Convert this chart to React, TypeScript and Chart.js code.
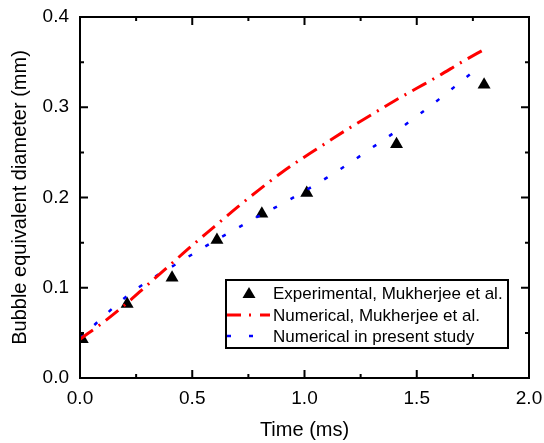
import React, { useEffect, useRef } from "react";
import { Chart, registerables } from "chart.js";

Chart.register(...registerables);

const FONT = '"Liberation Sans", Arial, sans-serif';

// Experimental, Mukherjee et al.
const expTime = [0.01, 0.21, 0.41, 0.61, 0.81, 1.01, 1.41, 1.8];
const expDiam = [0.043, 0.082, 0.111, 0.153, 0.182, 0.205, 0.259, 0.325];

// Numerical, Mukherjee et al.
const mukTime = [0, 0.1, 0.2, 0.3, 0.4, 0.5, 0.6, 0.7, 0.8, 0.9, 1.0, 1.1, 1.2, 1.3, 1.4, 1.5, 1.6, 1.7, 1.8];
const mukDiam = [0.043, 0.061, 0.081, 0.103, 0.125, 0.147, 0.168, 0.189, 0.209, 0.228, 0.245, 0.261, 0.277, 0.292, 0.307, 0.321, 0.335, 0.35, 0.364];

// Numerical in present study
const presTime = [0, 0.1, 0.2, 0.3, 0.4, 0.5, 0.6, 0.7, 0.8, 0.9, 1.0, 1.1, 1.2, 1.3, 1.4, 1.5, 1.6, 1.7, 1.79];
const presDiam = [0.044, 0.067, 0.089, 0.107, 0.122, 0.137, 0.152, 0.166, 0.18, 0.193, 0.207, 0.222, 0.238, 0.255, 0.272, 0.29, 0.309, 0.329, 0.347];

const xMajor = [0, 0.5, 1.0, 1.5, 2.0];
const xMinor = [0.25, 0.75, 1.25, 1.75];
const yMajor = [0, 0.1, 0.2, 0.3, 0.4];
const yMinor = [0.05, 0.15, 0.25, 0.35];

const legendLabels = [
  "Experimental, Mukherjee et al.",
  "Numerical, Mukherjee et al.",
  "Numerical in present study",
];

const framePlugin = {
  id: "frame",
  afterDraw(chart: any) {
    const { ctx, chartArea: a, scales } = chart;
    const xs = scales.x;
    const ys = scales.y;
    ctx.save();
    ctx.strokeStyle = "#000";
    ctx.lineWidth = 2;
    ctx.beginPath();
    const tick = (vals: number[], len: number) => {
      vals.forEach((v) => {
        const px = xs.getPixelForValue(v);
        ctx.moveTo(px, a.bottom);
        ctx.lineTo(px, a.bottom - len);
        ctx.moveTo(px, a.top);
        ctx.lineTo(px, a.top + len);
      });
    };
    const tickY = (vals: number[], len: number) => {
      vals.forEach((v) => {
        const py = ys.getPixelForValue(v);
        ctx.moveTo(a.left, py);
        ctx.lineTo(a.left + len, py);
        ctx.moveTo(a.right, py);
        ctx.lineTo(a.right - len, py);
      });
    };
    tick(xMajor, 8);
    tick(xMinor, 4);
    tickY(yMajor, 8);
    tickY(yMinor, 4);
    ctx.stroke();
    ctx.strokeRect(a.left, a.top, a.right - a.left, a.bottom - a.top);

    // legend box
    const bx = 226, by = 280, bw = 282, bh = 68;
    ctx.fillStyle = "#fff";
    ctx.fillRect(bx, by, bw, bh);
    ctx.lineWidth = 2;
    ctx.strokeRect(bx, by, bw, bh);
    const rows = [293, 315, 336];
    // triangle
    ctx.fillStyle = "#000";
    ctx.beginPath();
    ctx.moveTo(249, rows[0] - 6);
    ctx.lineTo(255.5, rows[0] + 5);
    ctx.lineTo(242.5, rows[0] + 5);
    ctx.closePath();
    ctx.fill();
    // red dash-dot
    ctx.strokeStyle = "#ff0000";
    ctx.lineWidth = 3;
    ctx.setLineDash([14, 8, 2, 9]);
    ctx.beginPath();
    ctx.moveTo(227, rows[1]);
    ctx.lineTo(270, rows[1]);
    ctx.stroke();
    // blue dots
    ctx.strokeStyle = "#0000ff";
    ctx.lineWidth = 2.5;
    ctx.setLineDash([4, 18]);
    ctx.beginPath();
    ctx.moveTo(227, rows[2]);
    ctx.lineTo(256, rows[2]);
    ctx.stroke();
    ctx.setLineDash([]);
    ctx.fillStyle = "#000";
    ctx.font = `17px ${FONT}`;
    ctx.textBaseline = "middle";
    ctx.textAlign = "left";
    legendLabels.forEach((t, i) => ctx.fillText(t, 273, rows[i] + 1));
    ctx.restore();
  },
};

export default function App() {
  const ref = useRef<HTMLCanvasElement | null>(null);
  useEffect(() => {
    if (!ref.current) return;
    const chart = new Chart(ref.current, {
      type: "scatter",
      data: {
        datasets: [
          {
            label: legendLabels[1],
            data: mukTime.map((t, i) => ({ x: t, y: mukDiam[i] })),
            showLine: true,
            borderColor: "#ff0000",
            borderWidth: 3,
            borderDash: [16, 7, 2, 7],
            pointRadius: 0,
            cubicInterpolationMode: "monotone",
            fill: false,
          } as any,
          {
            label: legendLabels[2],
            data: presTime.map((t, i) => ({ x: t, y: presDiam[i] })),
            showLine: true,
            borderColor: "#0000ff",
            borderWidth: 2.5,
            borderDash: [4, 15.5],
            pointRadius: 0,
            cubicInterpolationMode: "monotone",
            fill: false,
          } as any,
          {
            label: legendLabels[0],
            data: expTime.map((t, i) => ({ x: t, y: expDiam[i] })),
            showLine: false,
            pointStyle: "triangle",
            pointRadius: 7.5,
            backgroundColor: "#000",
            borderColor: "#000",
            borderWidth: 0,
          } as any,
        ],
      },
      options: {
        animation: false,
        responsive: false,
        maintainAspectRatio: false,
        layout: { padding: { top: 17, right: 15, left: 0, bottom: 0 } },
        plugins: {
          legend: { display: false },
          tooltip: { enabled: false },
        },
        scales: {
          x: {
            type: "linear",
            min: 0,
            max: 2,
            grid: { display: false, drawTicks: false },
            border: { display: false },
            afterFit: (s: any) => {
              s.height = 65;
              s.paddingLeft = 0;
              s.paddingRight = 0;
            },
            afterBuildTicks: (s: any) => {
              s.ticks = xMajor.map((v) => ({ value: v }));
            },
            ticks: {
              padding: 9,
              color: "#000",
              font: { family: FONT, size: 19 },
              callback: (v: any) => Number(v).toFixed(1),
              maxRotation: 0,
            },
            title: {
              display: true,
              text: "Time (ms)",
              color: "#000",
              font: { family: FONT, size: 20 },
              padding: { top: 0, bottom: 1 },
            },
          },
          y: {
            type: "linear",
            min: 0,
            max: 0.4,
            grid: { display: false, drawTicks: false },
            border: { display: false },
            afterFit: (s: any) => {
              s.width = 80;
              s.paddingTop = 0;
              s.paddingBottom = 0;
            },
            afterBuildTicks: (s: any) => {
              s.ticks = yMajor.map((v) => ({ value: v }));
            },
            ticks: {
              padding: 11,
              color: "#000",
              font: { family: FONT, size: 19 },
              callback: (v: any) => Number(v).toFixed(1),
            },
            title: {
              display: true,
              text: "Bubble equivalent diameter (mm)",
              color: "#000",
              font: { family: FONT, size: 20 },
              padding: { top: 8, bottom: 0 },
            },
          },
        },
      },
      plugins: [framePlugin],
    });
    return () => chart.destroy();
  }, []);
  return (
    <div style={{ position: "absolute", left: 0, top: 0, width: 544, height: 443, background: "#fff" }}>
      <canvas ref={ref} width={544} height={443} style={{ width: 544, height: 443 }} />
    </div>
  );
}
